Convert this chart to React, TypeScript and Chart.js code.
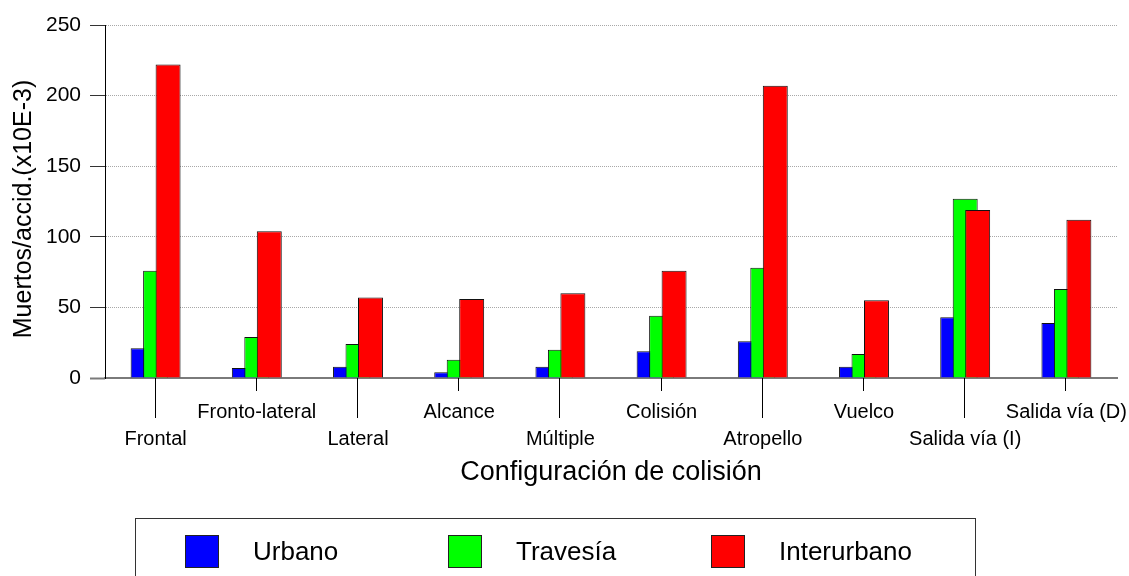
import { useEffect, useRef } from "react";
import { Chart, registerables } from "chart.js";

Chart.register(...registerables);

// Collision configurations along the x axis
const categories = [
  "Frontal",
  "Fronto-lateral",
  "Lateral",
  "Alcance",
  "Múltiple",
  "Colisión",
  "Atropello",
  "Vuelco",
  "Salida vía (I)",
  "Salida vía (D)",
];

// Deaths per accident (x10E-3) by road type
const urbano = [21, 7, 8, 4, 8, 19, 26, 8, 43, 39];
const travesia = [76, 29, 24, 13, 20, 44, 78, 17, 127, 63];
const interurbano = [222, 104, 57, 56, 60, 76, 207, 55, 119, 112];

const seriesNames = ["Urbano", "Travesía", "Interurbano"];
const seriesColors = ["#0000ff", "#00ff00", "#ff0000"];
const seriesValues = [urbano, travesia, interurbano];

const yTicks = [0, 50, 100, 150, 200, 250];
const yTitle = "Muertos/accid.(x10E-3)";
const xTitle = "Configuración de colisión";

const FONT = '"Liberation Sans", Arial, Helvetica, sans-serif';

// Bars overlap to the right: draw datasets in their natural order so the
// right-hand (later) series sits on top of the earlier ones.
const forwardDrawOrder = {
  id: "forwardDrawOrder",
  beforeDatasetsDraw(chart: any) {
    const metas = chart.getSortedVisibleDatasetMetas();
    for (const meta of metas) meta.controller.draw();
    return false;
  },
};

// Axis titles and the framed legend underneath the plot
const decorations = {
  id: "decorations",
  afterDraw(chart: any) {
    const { ctx, chartArea } = chart;
    ctx.save();
    ctx.fillStyle = "#000";
    ctx.textAlign = "center";
    ctx.textBaseline = "middle";

    // y title
    ctx.save();
    ctx.translate(24, 209);
    ctx.rotate(-Math.PI / 2);
    ctx.font = `25px ${FONT}`;
    ctx.fillText(yTitle, 0, 0);
    ctx.restore();

    // x title
    ctx.font = `27px ${FONT}`;
    ctx.fillText(xTitle, (chartArea.left + chartArea.right) / 2, 473);

    // legend frame
    ctx.strokeStyle = "#333";
    ctx.lineWidth = 1;
    ctx.strokeRect(135.5, 518.5, 840, 80);

    ctx.textAlign = "left";
    ctx.font = `26px ${FONT}`;
    chart.data.datasets.forEach((ds: any, i: number) => {
      const x = 185 + i * 263;
      ctx.fillStyle = ds.backgroundColor;
      ctx.fillRect(x, 535, 34, 33);
      ctx.strokeStyle = "#222";
      ctx.strokeRect(x + 0.5, 535.5, 33, 32);
      ctx.fillStyle = "#000";
      ctx.fillText(ds.label, x + 68, 553);
    });
    ctx.restore();
  },
};

// Alternating tick marks: long for the lower label row, short for the upper
const staggeredTicks = {
  id: "staggeredTicks",
  afterDraw(chart: any) {
    const { ctx } = chart;
    const xs = chart.scales.x;
    const y0 = chart.chartArea.bottom;
    ctx.save();
    ctx.strokeStyle = "#000";
    ctx.lineWidth = 1;
    categories.forEach((_, i) => {
      const px = Math.round(xs.getPixelForValue(i)) - 0.5;
      ctx.beginPath();
      ctx.moveTo(px, y0);
      ctx.lineTo(px, y0 + (i % 2 === 0 ? 40 : 13));
      ctx.stroke();
    });
    ctx.restore();
  },
};

export default function App() {
  const ref = useRef<HTMLCanvasElement>(null);

  useEffect(() => {
    const canvas = ref.current;
    if (!canvas) return;
    const chart = new Chart(canvas, {
      type: "bar",
      data: {
        labels: categories.map((c, i) => (i % 2 === 0 ? ["", c] : [c])),
        datasets: seriesValues.map((vals, k) => ({
          label: seriesNames[k],
          data: vals,
          backgroundColor: seriesColors[k],
          borderColor: "#111",
          borderWidth: 1,
          barPercentage: 2,
          categoryPercentage: 0.37,
        })),
      },
      options: {
        responsive: false,
        animation: false,
        layout: { padding: { top: 25, right: 12, left: 0, bottom: 0 } },
        plugins: {
          legend: { display: false },
          tooltip: { enabled: false },
        },
        scales: {
          x: {
            offset: true,
            grid: { display: false },
            border: { display: true, color: "#7a7a7a", width: 2 },
            ticks: {
              autoSkip: false,
              maxRotation: 0,
              minRotation: 0,
              padding: 13,
              color: "#000",
              font: { family: FONT, size: 20, lineHeight: 1.35 },
            },
            afterFit: (s: any) => {
              s.height = 198;
              s.paddingLeft = 0;
              s.paddingRight = 0;
            },
          },
          y: {
            min: 0,
            max: 250,
            afterBuildTicks: (s: any) => {
              s.ticks = yTicks.map((v) => ({ value: v }));
            },
            grid: {
              color: "#a8a8a8",
              lineWidth: 1,
              drawTicks: true,
              tickLength: 15,
              tickColor: (c: any) => (c.tick && c.tick.value === 0 ? "#7a7a7a" : "#333"),
              tickWidth: (c: any) => (c.tick && c.tick.value === 0 ? 2 : 1),
              tickBorderDash: [],
            },
            border: { display: true, color: "#000", width: 1, dash: [1, 1] },
            ticks: {
              padding: 9,
              color: "#000",
              font: { family: FONT, size: 21 },
            },
            afterFit: (s: any) => {
              s.width = 105;
            },
          },
        },
      },
      plugins: [forwardDrawOrder, staggeredTicks, decorations],
    } as any);
    return () => chart.destroy();
  }, []);

  return (
    <div style={{ position: "absolute", left: 0, top: 0, width: 1129, height: 576, background: "#fff" }}>
      <canvas ref={ref} width={1129} height={576} />
    </div>
  );
}
